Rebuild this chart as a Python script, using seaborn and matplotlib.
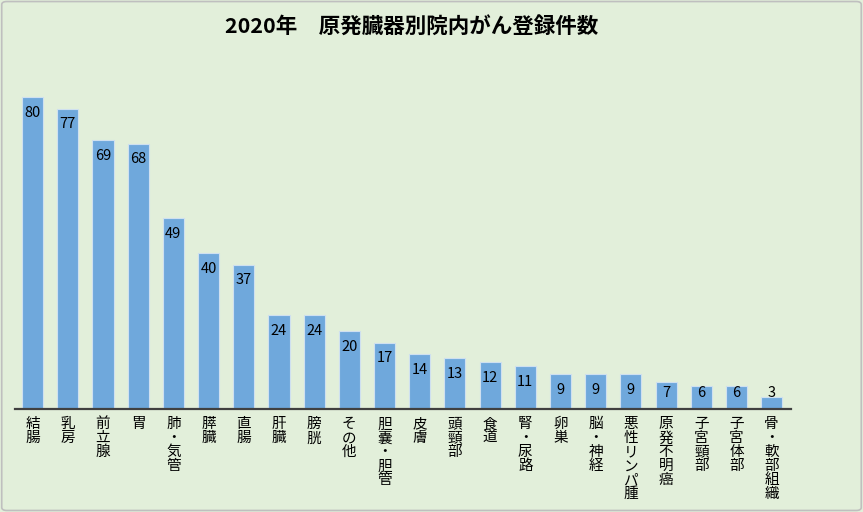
import matplotlib
matplotlib.use("Agg")
import matplotlib.pyplot as plt
import seaborn as sns
import pandas as pd
from matplotlib.patches import FancyBboxPatch

categories = ["結腸", "乳房", "前立腺", "胃", "肺・気管", "膵臓", "直腸", "肝臓", "膀胱",
              "その他", "胆嚢・胆管", "皮膚", "頭頸部", "食道", "腎・尿路", "卵巣", "脳・神経",
              "悪性リンパ腫", "原発不明癌", "子宮頸部", "子宮体部", "骨・軟部組織"]
values = [80, 77, 69, 68, 49, 40, 37, 24, 24, 20, 17, 14, 13, 12, 11, 9, 9, 9, 7, 6, 6, 3]
title = "2020年　原発臓器別院内がん登録件数"

bg = "#E2EFDA"
bar_color = "#6FA8DC"

sns.set_theme(style="white")
plt.rcParams['font.family'] = ['Noto Sans CJK JP', 'DejaVu Sans']

df = pd.DataFrame({"cat": categories, "val": values})

fig = plt.figure(figsize=(8.63, 5.12), dpi=100, facecolor=bg)
W, H = 863, 512
left, right, bottom = 15, 791, 409
top = 409 - 90 * 3.9
ax = fig.add_axes([left / W, 1 - bottom / H, (right - left) / W, (bottom - top) / H])
ax.set_facecolor(bg)

sns.barplot(data=df, x="cat", y="val", color=bar_color, width=0.6, ax=ax,
            edgecolor="#CFE0F0", linewidth=0.8, saturation=1)

ax.set_ylim(0, 90)
ax.set_xlim(-0.5, len(categories) - 0.45)
for s in ["top", "right", "left"]:
    ax.spines[s].set_visible(False)
ax.spines["bottom"].set_color("#404040")
ax.spines["bottom"].set_linewidth(1.6)
ax.set_yticks([])
ax.set_xlabel("")
ax.set_ylabel("")

ax.set_xticks(range(len(categories)))
ax.set_xticklabels(["\n".join(list(c)) for c in categories], fontsize=10.5,
                   va="top", linespacing=1.0, color="#000000")
ax.tick_params(axis="x", length=0, pad=6)

for p in ax.patches:
    h = p.get_height()
    x = p.get_x() + p.get_width() / 2
    y = max(h - 4.0, 4.0)
    ax.text(x, y, f"{int(round(h))}", ha="center", va="center", fontsize=10.5, color="#000000")

fig.text(412 / W, 1 - 27 / H, title, ha="center", va="center", fontsize=15.5,
         fontweight="bold", color="#000000")

border = FancyBboxPatch((0.002, 0.003), 0.996, 0.994, boxstyle="round,pad=0,rounding_size=0.006",
                        transform=fig.transFigure, fill=False, edgecolor="#BFBFBF", linewidth=1.2)
fig.patches.append(border)

fig.savefig("out.png", dpi=100, facecolor=bg)
